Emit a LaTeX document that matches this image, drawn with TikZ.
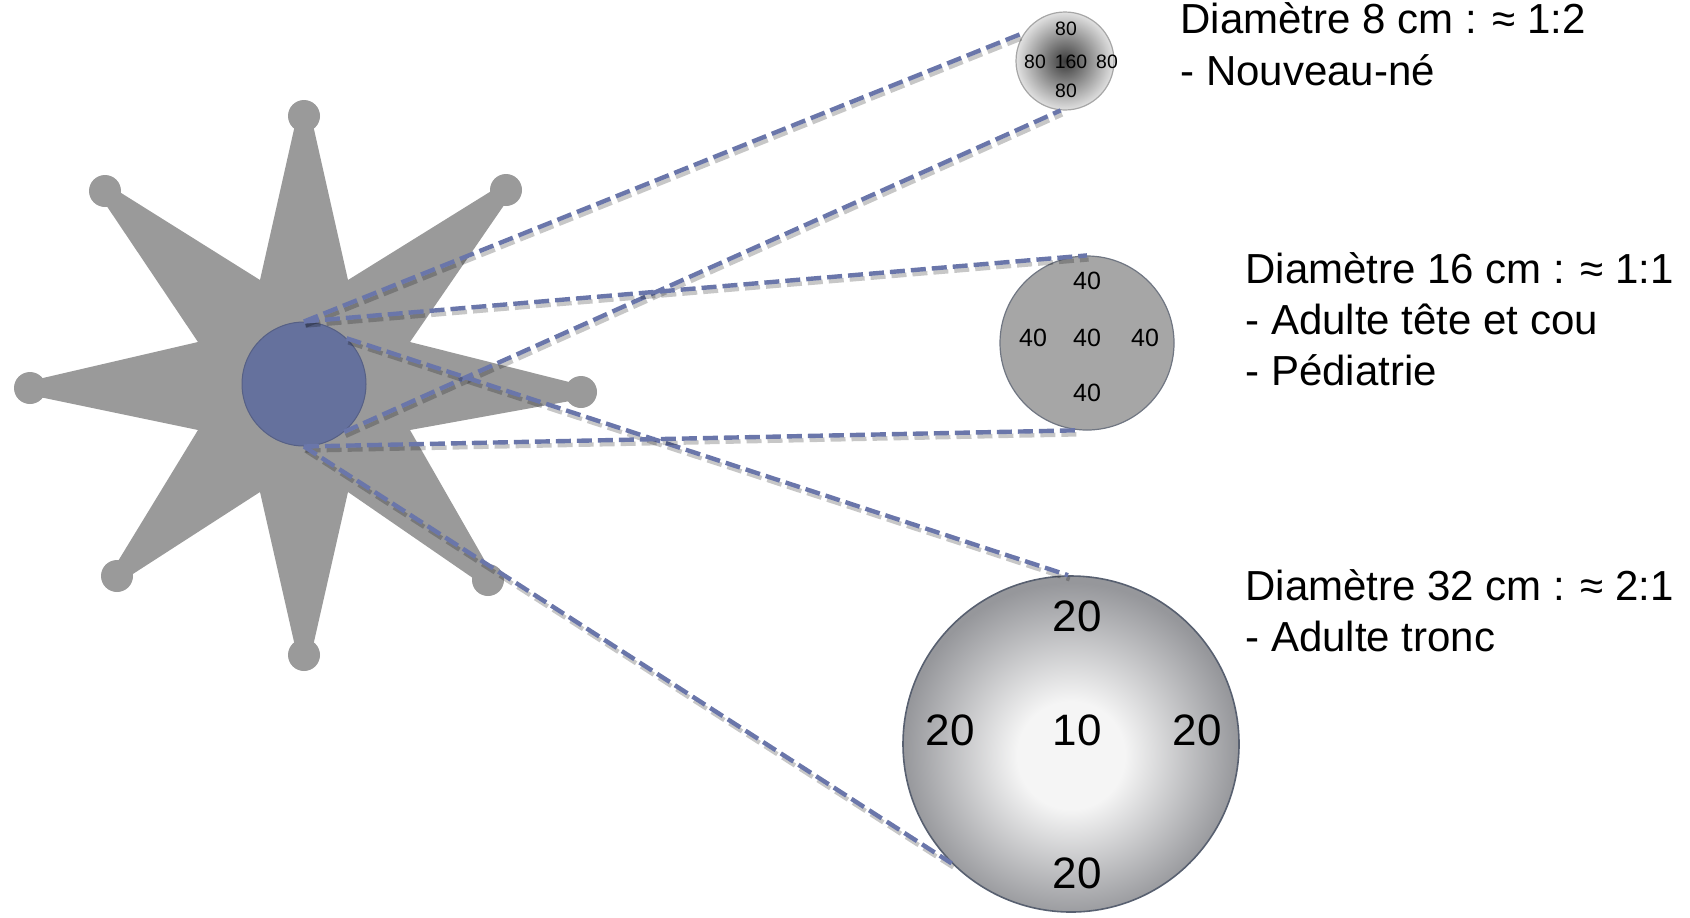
\documentclass[tikz,border=0pt]{standalone}
\usepackage{fontspec}
\setmainfont{Liberation Sans}
\definecolor{stargray}{RGB}{154,154,154}
\definecolor{bluec}{RGB}{101,113,157}
\definecolor{raycol}{RGB}{106,118,170}
\definecolor{medfill}{RGB}{166,166,166}
\definecolor{medline}{RGB}{112,118,130}
\definecolor{sin}{RGB}{60,60,60}
\definecolor{sout}{RGB}{225,225,225}
\definecolor{lin}{RGB}{245,245,245}
\definecolor{lout}{RGB}{150,151,155}
\definecolor{lline}{RGB}{88,96,112}
\pgfdeclareradialshading{smallball}{\pgfpoint{0bp}{0bp}}{color(0bp)=(sin); color(25bp)=(sout); color(50bp)=(sout)}
\pgfdeclareradialshading{bigball}{\pgfpoint{0bp}{-2bp}}{color(0bp)=(lin); color(8bp)=(lin); color(25bp)=(lout); color(50bp)=(lout)}
\begin{document}
\begin{tikzpicture}[x=0.5pt,y=-0.5pt,
  starfill/.style={fill=stargray},
  ray/.style={preaction={draw=black, draw opacity=0.22, line width=2.2pt, dash pattern=on 7.5pt off 3pt, transform canvas={xshift=0.8pt,yshift=-2pt}},
              draw=raycol, line width=2.2pt, dash pattern=on 7.5pt off 3pt},
  num/.style={inner sep=0pt, text=black},
  lbl/.style={anchor=base west, inner sep=0pt, font=\fontsize{21}{25}\selectfont},
]
\useasboundingbox (0,0) rectangle (1690,917);
% star
\fill[starfill] (297,116) -- (311,116) -- (348,280) -- (501,185) -- (511,195) -- (410,342)
  -- (581,385) -- (581,399) -- (410,430) -- (493,575) -- (483,585) -- (348,492)
  -- (311,655) -- (297,655) -- (260,492) -- (122,581) -- (112,571) -- (198,430)
  -- (30,395) -- (30,381) -- (198,342) -- (100,196) -- (110,186) -- (260,280) -- cycle;
\foreach \p in {(304,116),(506,190),(581,392),(488,580),(304,655),(117,576),(30,388),(105,191)}
  \fill[starfill] \p circle[radius=16];
% centre
\node[circle, fill=bluec, draw=bluec!85!black, line width=0.5pt, minimum size=62pt, inner sep=0pt] (blue) at (304,384) {};
% phantoms
\node[circle, shading=smallball, draw=gray!70, line width=0.6pt, minimum size=49pt, inner sep=0pt] (small) at (1065,61) {};
\node[circle, fill=medfill, draw=medline, line width=0.6pt, minimum size=87pt, inner sep=0pt] (med) at (1087,343) {};
\node[circle, shading=bigball, draw=lline, line width=0.8pt, minimum size=168pt, inner sep=0pt] (large) at (1071,744) {};
% rays
\draw[ray] (blue.90) -- (small.145);
\draw[ray] (blue.-50) -- (small.-95);
\draw[ray] (blue.90) -- (med.90);
\draw[ray] (blue.47) -- (large.91);
\draw[ray] (blue.-90) -- (med.-95);
\draw[ray] (blue.-90) -- (large.-135);
% numbers
\begin{scope}[every node/.style={num, font=\fontsize{9.7}{11}\selectfont}]
\node (s1) at (1066,29) {80};
\node (s2) at (1035,62) {80};
\node (s3) at (1071,62) {160};
\node (s4) at (1107,62) {80};
\node (s5) at (1066,91) {80};
\end{scope}
\begin{scope}[every node/.style={num, font=\fontsize{12.5}{14}\selectfont}]
\node (m1) at (1087,281) {40};
\node (m2) at (1033,338) {40};
\node (m3) at (1087,338) {40};
\node (m4) at (1145,338) {40};
\node (m5) at (1087,393) {40};
\end{scope}
\begin{scope}[every node/.style={num, font=\fontsize{22}{26}\selectfont}]
\node (l1) at (1077,616) {20};
\node (l2) at (950,730) {20};
\node (l3) at (1077,730) {10};
\node (l4) at (1197,730) {20};
\node (l5) at (1077,873) {20};
\end{scope}
% labels
\node[lbl] (t1a) at (1180,33) {Diamètre 8 cm : ≈ 1:2};
\node[lbl] (t1b) at (1180,85) {- Nouveau-né};
\node[lbl] (t2a) at (1245,283) {Diamètre 16 cm : ≈ 1:1};
\node[lbl] (t2b) at (1245,334) {- Adulte tête et cou};
\node[lbl] (t2c) at (1245,385) {- Pédiatrie};
\node[lbl] (t3a) at (1245,600) {Diamètre 32 cm : ≈ 2:1};
\node[lbl] (t3b) at (1245,651) {- Adulte tronc};
\end{tikzpicture}
\end{document}
